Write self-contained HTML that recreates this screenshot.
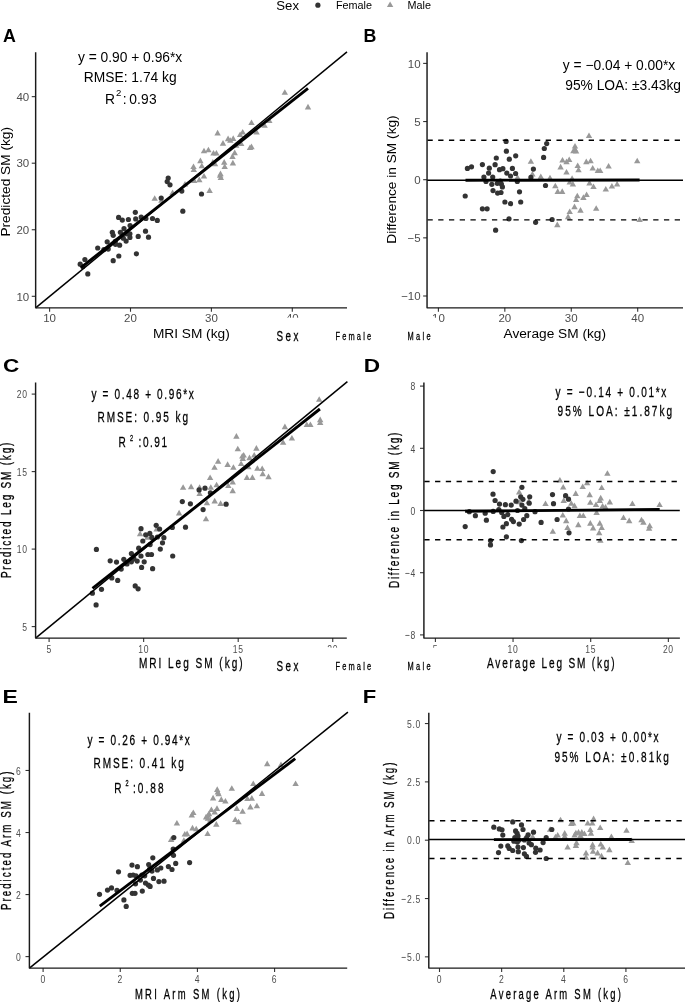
<!DOCTYPE html>
<html><head><meta charset="utf-8"><style>
html,body{margin:0;padding:0;background:#fff;width:685px;height:1002px;overflow:hidden}
svg{display:block;will-change:transform}
</style></head><body>
<svg width="685" height="1002" viewBox="0 0 685 1002">
<rect width="685" height="1002" fill="#fff"/>
<g font-family='"Liberation Sans", sans-serif'>
<line x1="31.75" y1="296.30" x2="35.65" y2="296.30" stroke="#333" stroke-width="1.1" stroke-linecap="butt"/>
<text x="29.25" y="300.5" font-size="11.5" text-anchor="end" fill="#4d4d4d" font-weight="normal">10</text>
<line x1="31.75" y1="229.75" x2="35.65" y2="229.75" stroke="#333" stroke-width="1.1" stroke-linecap="butt"/>
<text x="29.25" y="233.95" font-size="11.5" text-anchor="end" fill="#4d4d4d" font-weight="normal">20</text>
<line x1="31.75" y1="163.20" x2="35.65" y2="163.20" stroke="#333" stroke-width="1.1" stroke-linecap="butt"/>
<text x="29.25" y="167.4" font-size="11.5" text-anchor="end" fill="#4d4d4d" font-weight="normal">30</text>
<line x1="31.75" y1="96.65" x2="35.65" y2="96.65" stroke="#333" stroke-width="1.1" stroke-linecap="butt"/>
<text x="29.25" y="100.85000000000001" font-size="11.5" text-anchor="end" fill="#4d4d4d" font-weight="normal">40</text>
<line x1="49.60" y1="307.85" x2="49.60" y2="311.75" stroke="#333" stroke-width="1.1" stroke-linecap="butt"/>
<text x="49.6" y="322.35" font-size="11.5" text-anchor="middle" fill="#4d4d4d" font-weight="normal">10</text>
<line x1="130.50" y1="307.85" x2="130.50" y2="311.75" stroke="#333" stroke-width="1.1" stroke-linecap="butt"/>
<text x="130.5" y="322.35" font-size="11.5" text-anchor="middle" fill="#4d4d4d" font-weight="normal">20</text>
<line x1="211.40" y1="307.85" x2="211.40" y2="311.75" stroke="#333" stroke-width="1.1" stroke-linecap="butt"/>
<text x="211.4" y="322.35" font-size="11.5" text-anchor="middle" fill="#4d4d4d" font-weight="normal">30</text>
<line x1="292.30" y1="307.85" x2="292.30" y2="311.75" stroke="#333" stroke-width="1.1" stroke-linecap="butt"/>
<text x="292.3" y="322.35" font-size="11.5" text-anchor="middle" fill="#4d4d4d" font-weight="normal">40</text>
<line x1="423.15" y1="296.00" x2="427.05" y2="296.00" stroke="#333" stroke-width="1.1" stroke-linecap="butt"/>
<text x="420.65000000000003" y="300.2" font-size="11.5" text-anchor="end" fill="#4d4d4d" font-weight="normal">−10</text>
<line x1="423.15" y1="237.85" x2="427.05" y2="237.85" stroke="#333" stroke-width="1.1" stroke-linecap="butt"/>
<text x="420.65000000000003" y="242.04999999999998" font-size="11.5" text-anchor="end" fill="#4d4d4d" font-weight="normal">−5</text>
<line x1="423.15" y1="179.70" x2="427.05" y2="179.70" stroke="#333" stroke-width="1.1" stroke-linecap="butt"/>
<text x="420.65000000000003" y="183.89999999999998" font-size="11.5" text-anchor="end" fill="#4d4d4d" font-weight="normal">0</text>
<line x1="423.15" y1="121.55" x2="427.05" y2="121.55" stroke="#333" stroke-width="1.1" stroke-linecap="butt"/>
<text x="420.65000000000003" y="125.74999999999999" font-size="11.5" text-anchor="end" fill="#4d4d4d" font-weight="normal">5</text>
<line x1="423.15" y1="63.40" x2="427.05" y2="63.40" stroke="#333" stroke-width="1.1" stroke-linecap="butt"/>
<text x="420.65000000000003" y="67.59999999999998" font-size="11.5" text-anchor="end" fill="#4d4d4d" font-weight="normal">10</text>
<line x1="438.40" y1="307.85" x2="438.40" y2="311.75" stroke="#333" stroke-width="1.1" stroke-linecap="butt"/>
<text x="438.4" y="322.35" font-size="11.5" text-anchor="middle" fill="#4d4d4d" font-weight="normal">10</text>
<line x1="504.83" y1="307.85" x2="504.83" y2="311.75" stroke="#333" stroke-width="1.1" stroke-linecap="butt"/>
<text x="504.83" y="322.35" font-size="11.5" text-anchor="middle" fill="#4d4d4d" font-weight="normal">20</text>
<line x1="571.26" y1="307.85" x2="571.26" y2="311.75" stroke="#333" stroke-width="1.1" stroke-linecap="butt"/>
<text x="571.26" y="322.35" font-size="11.5" text-anchor="middle" fill="#4d4d4d" font-weight="normal">30</text>
<line x1="637.69" y1="307.85" x2="637.69" y2="311.75" stroke="#333" stroke-width="1.1" stroke-linecap="butt"/>
<text x="637.6899999999999" y="322.35" font-size="11.5" text-anchor="middle" fill="#4d4d4d" font-weight="normal">40</text>
<line x1="31.70" y1="626.60" x2="35.60" y2="626.60" stroke="#333" stroke-width="1.1" stroke-linecap="butt"/>
<text transform="translate(27.700000000000003,630.8000000000001) scale(0.74,1)" font-size="11.6" text-anchor="end" fill="#4d4d4d" font-weight="normal" letter-spacing="0.9">5</text>
<line x1="31.70" y1="549.10" x2="35.60" y2="549.10" stroke="#333" stroke-width="1.1" stroke-linecap="butt"/>
<text transform="translate(27.700000000000003,553.3000000000001) scale(0.74,1)" font-size="11.6" text-anchor="end" fill="#4d4d4d" font-weight="normal" letter-spacing="0.9">10</text>
<line x1="31.70" y1="471.60" x2="35.60" y2="471.60" stroke="#333" stroke-width="1.1" stroke-linecap="butt"/>
<text transform="translate(27.700000000000003,475.8) scale(0.74,1)" font-size="11.6" text-anchor="end" fill="#4d4d4d" font-weight="normal" letter-spacing="0.9">15</text>
<line x1="31.70" y1="394.10" x2="35.60" y2="394.10" stroke="#333" stroke-width="1.1" stroke-linecap="butt"/>
<text transform="translate(27.700000000000003,398.3) scale(0.74,1)" font-size="11.6" text-anchor="end" fill="#4d4d4d" font-weight="normal" letter-spacing="0.9">20</text>
<line x1="49.10" y1="638.10" x2="49.10" y2="642.00" stroke="#333" stroke-width="1.1" stroke-linecap="butt"/>
<text transform="translate(49.1,652.6) scale(0.74,1)" font-size="11.6" text-anchor="middle" fill="#4d4d4d" font-weight="normal" letter-spacing="0.9">5</text>
<line x1="143.65" y1="638.10" x2="143.65" y2="642.00" stroke="#333" stroke-width="1.1" stroke-linecap="butt"/>
<text transform="translate(143.65,652.6) scale(0.74,1)" font-size="11.6" text-anchor="middle" fill="#4d4d4d" font-weight="normal" letter-spacing="0.9">10</text>
<line x1="238.20" y1="638.10" x2="238.20" y2="642.00" stroke="#333" stroke-width="1.1" stroke-linecap="butt"/>
<text transform="translate(238.2,652.6) scale(0.74,1)" font-size="11.6" text-anchor="middle" fill="#4d4d4d" font-weight="normal" letter-spacing="0.9">15</text>
<line x1="332.75" y1="638.10" x2="332.75" y2="642.00" stroke="#333" stroke-width="1.1" stroke-linecap="butt"/>
<text transform="translate(332.75,652.6) scale(0.74,1)" font-size="11.6" text-anchor="middle" fill="#4d4d4d" font-weight="normal" letter-spacing="0.9">20</text>
<line x1="420.00" y1="634.90" x2="423.90" y2="634.90" stroke="#333" stroke-width="1.1" stroke-linecap="butt"/>
<text transform="translate(416.0,639.1) scale(0.74,1)" font-size="11.6" text-anchor="end" fill="#4d4d4d" font-weight="normal" letter-spacing="0.9">−8</text>
<line x1="420.00" y1="572.70" x2="423.90" y2="572.70" stroke="#333" stroke-width="1.1" stroke-linecap="butt"/>
<text transform="translate(416.0,576.9000000000001) scale(0.74,1)" font-size="11.6" text-anchor="end" fill="#4d4d4d" font-weight="normal" letter-spacing="0.9">−4</text>
<line x1="420.00" y1="510.50" x2="423.90" y2="510.50" stroke="#333" stroke-width="1.1" stroke-linecap="butt"/>
<text transform="translate(416.0,514.7) scale(0.74,1)" font-size="11.6" text-anchor="end" fill="#4d4d4d" font-weight="normal" letter-spacing="0.9">0</text>
<line x1="420.00" y1="448.30" x2="423.90" y2="448.30" stroke="#333" stroke-width="1.1" stroke-linecap="butt"/>
<text transform="translate(416.0,452.5) scale(0.74,1)" font-size="11.6" text-anchor="end" fill="#4d4d4d" font-weight="normal" letter-spacing="0.9">4</text>
<line x1="420.00" y1="386.10" x2="423.90" y2="386.10" stroke="#333" stroke-width="1.1" stroke-linecap="butt"/>
<text transform="translate(416.0,390.3) scale(0.74,1)" font-size="11.6" text-anchor="end" fill="#4d4d4d" font-weight="normal" letter-spacing="0.9">8</text>
<line x1="435.40" y1="638.10" x2="435.40" y2="642.00" stroke="#333" stroke-width="1.1" stroke-linecap="butt"/>
<text transform="translate(435.4,652.6) scale(0.74,1)" font-size="11.6" text-anchor="middle" fill="#4d4d4d" font-weight="normal" letter-spacing="0.9">5</text>
<line x1="513.05" y1="638.10" x2="513.05" y2="642.00" stroke="#333" stroke-width="1.1" stroke-linecap="butt"/>
<text transform="translate(513.05,652.6) scale(0.74,1)" font-size="11.6" text-anchor="middle" fill="#4d4d4d" font-weight="normal" letter-spacing="0.9">10</text>
<line x1="590.70" y1="638.10" x2="590.70" y2="642.00" stroke="#333" stroke-width="1.1" stroke-linecap="butt"/>
<text transform="translate(590.6999999999999,652.6) scale(0.74,1)" font-size="11.6" text-anchor="middle" fill="#4d4d4d" font-weight="normal" letter-spacing="0.9">15</text>
<line x1="668.35" y1="638.10" x2="668.35" y2="642.00" stroke="#333" stroke-width="1.1" stroke-linecap="butt"/>
<text transform="translate(668.3499999999999,652.6) scale(0.74,1)" font-size="11.6" text-anchor="middle" fill="#4d4d4d" font-weight="normal" letter-spacing="0.9">20</text>
<line x1="25.50" y1="956.60" x2="29.40" y2="956.60" stroke="#333" stroke-width="1.1" stroke-linecap="butt"/>
<text transform="translate(21.5,960.8000000000001) scale(0.74,1)" font-size="11.6" text-anchor="end" fill="#4d4d4d" font-weight="normal" letter-spacing="0.9">0</text>
<line x1="25.50" y1="894.56" x2="29.40" y2="894.56" stroke="#333" stroke-width="1.1" stroke-linecap="butt"/>
<text transform="translate(21.5,898.7600000000001) scale(0.74,1)" font-size="11.6" text-anchor="end" fill="#4d4d4d" font-weight="normal" letter-spacing="0.9">2</text>
<line x1="25.50" y1="832.52" x2="29.40" y2="832.52" stroke="#333" stroke-width="1.1" stroke-linecap="butt"/>
<text transform="translate(21.5,836.72) scale(0.74,1)" font-size="11.6" text-anchor="end" fill="#4d4d4d" font-weight="normal" letter-spacing="0.9">4</text>
<line x1="25.50" y1="770.48" x2="29.40" y2="770.48" stroke="#333" stroke-width="1.1" stroke-linecap="butt"/>
<text transform="translate(21.5,774.6800000000001) scale(0.74,1)" font-size="11.6" text-anchor="end" fill="#4d4d4d" font-weight="normal" letter-spacing="0.9">6</text>
<line x1="43.10" y1="968.10" x2="43.10" y2="972.00" stroke="#333" stroke-width="1.1" stroke-linecap="butt"/>
<text transform="translate(43.1,982.6) scale(0.74,1)" font-size="11.6" text-anchor="middle" fill="#4d4d4d" font-weight="normal" letter-spacing="0.9">0</text>
<line x1="120.26" y1="968.10" x2="120.26" y2="972.00" stroke="#333" stroke-width="1.1" stroke-linecap="butt"/>
<text transform="translate(120.25999999999999,982.6) scale(0.74,1)" font-size="11.6" text-anchor="middle" fill="#4d4d4d" font-weight="normal" letter-spacing="0.9">2</text>
<line x1="197.42" y1="968.10" x2="197.42" y2="972.00" stroke="#333" stroke-width="1.1" stroke-linecap="butt"/>
<text transform="translate(197.42,982.6) scale(0.74,1)" font-size="11.6" text-anchor="middle" fill="#4d4d4d" font-weight="normal" letter-spacing="0.9">4</text>
<line x1="274.58" y1="968.10" x2="274.58" y2="972.00" stroke="#333" stroke-width="1.1" stroke-linecap="butt"/>
<text transform="translate(274.58,982.6) scale(0.74,1)" font-size="11.6" text-anchor="middle" fill="#4d4d4d" font-weight="normal" letter-spacing="0.9">6</text>
<line x1="424.90" y1="956.85" x2="428.80" y2="956.85" stroke="#333" stroke-width="1.1" stroke-linecap="butt"/>
<text transform="translate(420.90000000000003,961.0500000000001) scale(0.74,1)" font-size="11.6" text-anchor="end" fill="#4d4d4d" font-weight="normal" letter-spacing="0.9">−5.0</text>
<line x1="424.90" y1="898.53" x2="428.80" y2="898.53" stroke="#333" stroke-width="1.1" stroke-linecap="butt"/>
<text transform="translate(420.90000000000003,902.7250000000001) scale(0.74,1)" font-size="11.6" text-anchor="end" fill="#4d4d4d" font-weight="normal" letter-spacing="0.9">−2.5</text>
<line x1="424.90" y1="840.20" x2="428.80" y2="840.20" stroke="#333" stroke-width="1.1" stroke-linecap="butt"/>
<text transform="translate(420.90000000000003,844.4000000000001) scale(0.74,1)" font-size="11.6" text-anchor="end" fill="#4d4d4d" font-weight="normal" letter-spacing="0.9">0.0</text>
<line x1="424.90" y1="781.88" x2="428.80" y2="781.88" stroke="#333" stroke-width="1.1" stroke-linecap="butt"/>
<text transform="translate(420.90000000000003,786.075) scale(0.74,1)" font-size="11.6" text-anchor="end" fill="#4d4d4d" font-weight="normal" letter-spacing="0.9">2.5</text>
<line x1="424.90" y1="723.55" x2="428.80" y2="723.55" stroke="#333" stroke-width="1.1" stroke-linecap="butt"/>
<text transform="translate(420.90000000000003,727.7500000000001) scale(0.74,1)" font-size="11.6" text-anchor="end" fill="#4d4d4d" font-weight="normal" letter-spacing="0.9">5.0</text>
<line x1="439.50" y1="968.10" x2="439.50" y2="972.00" stroke="#333" stroke-width="1.1" stroke-linecap="butt"/>
<text transform="translate(439.5,982.6) scale(0.74,1)" font-size="11.6" text-anchor="middle" fill="#4d4d4d" font-weight="normal" letter-spacing="0.9">0</text>
<line x1="501.64" y1="968.10" x2="501.64" y2="972.00" stroke="#333" stroke-width="1.1" stroke-linecap="butt"/>
<text transform="translate(501.64,982.6) scale(0.74,1)" font-size="11.6" text-anchor="middle" fill="#4d4d4d" font-weight="normal" letter-spacing="0.9">2</text>
<line x1="563.78" y1="968.10" x2="563.78" y2="972.00" stroke="#333" stroke-width="1.1" stroke-linecap="butt"/>
<text transform="translate(563.78,982.6) scale(0.74,1)" font-size="11.6" text-anchor="middle" fill="#4d4d4d" font-weight="normal" letter-spacing="0.9">4</text>
<line x1="625.92" y1="968.10" x2="625.92" y2="972.00" stroke="#333" stroke-width="1.1" stroke-linecap="butt"/>
<text transform="translate(625.9200000000001,982.6) scale(0.74,1)" font-size="11.6" text-anchor="middle" fill="#4d4d4d" font-weight="normal" letter-spacing="0.9">6</text>
<path d="M154.7 195.2L157.9 200.8L151.5 200.8Z" fill="#999999"/>
<path d="M161.4 197.1L164.6 202.7L158.2 202.7Z" fill="#999999"/>
<path d="M172.6 189.5L175.8 195.1L169.4 195.1Z" fill="#999999"/>
<path d="M185.0 181.0L188.2 186.6L181.8 186.6Z" fill="#999999"/>
<path d="M194.2 177.3L197.4 182.9L191.0 182.9Z" fill="#999999"/>
<path d="M199.3 176.6L202.5 182.2L196.1 182.2Z" fill="#999999"/>
<path d="M204.0 173.0L207.2 178.6L200.8 178.6Z" fill="#999999"/>
<path d="M209.6 187.3L212.8 192.9L206.4 192.9Z" fill="#999999"/>
<path d="M193.5 163.5L196.7 169.1L190.3 169.1Z" fill="#999999"/>
<path d="M193.8 166.4L197.0 172.0L190.6 172.0Z" fill="#999999"/>
<path d="M200.4 157.6L203.6 163.2L197.2 163.2Z" fill="#999999"/>
<path d="M201.8 162.7L205.0 168.3L198.6 168.3Z" fill="#999999"/>
<path d="M204.0 147.7L207.2 153.3L200.8 153.3Z" fill="#999999"/>
<path d="M208.4 146.7L211.6 152.3L205.2 152.3Z" fill="#999999"/>
<path d="M213.5 150.0L216.7 155.6L210.3 155.6Z" fill="#999999"/>
<path d="M216.4 150.0L219.6 155.6L213.2 155.6Z" fill="#999999"/>
<path d="M212.8 159.1L216.0 164.7L209.6 164.7Z" fill="#999999"/>
<path d="M215.0 160.6L218.2 166.2L211.8 166.2Z" fill="#999999"/>
<path d="M220.1 172.2L223.3 177.8L216.9 177.8Z" fill="#999999"/>
<path d="M220.8 174.4L224.0 180.0L217.6 180.0Z" fill="#999999"/>
<path d="M224.2 159.1L227.4 164.7L221.0 164.7Z" fill="#999999"/>
<path d="M224.7 163.5L227.9 169.1L221.5 169.1Z" fill="#999999"/>
<path d="M232.9 159.8L236.1 165.4L229.7 165.4Z" fill="#999999"/>
<path d="M232.5 153.3L235.7 158.9L229.3 158.9Z" fill="#999999"/>
<path d="M234.7 149.6L237.9 155.2L231.5 155.2Z" fill="#999999"/>
<path d="M223.0 140.1L226.2 145.7L219.8 145.7Z" fill="#999999"/>
<path d="M241.2 140.4L244.4 146.0L238.0 146.0Z" fill="#999999"/>
<path d="M250.0 144.5L253.2 150.1L246.8 150.1Z" fill="#999999"/>
<path d="M230.3 137.2L233.5 142.8L227.1 142.8Z" fill="#999999"/>
<path d="M284.8 89.2L288.0 94.8L281.6 94.8Z" fill="#999999"/>
<path d="M308.0 103.8L311.2 109.4L304.8 109.4Z" fill="#999999"/>
<path d="M251.5 119.5L254.7 125.1L248.3 125.1Z" fill="#999999"/>
<path d="M264.6 122.2L267.8 127.8L261.4 127.8Z" fill="#999999"/>
<path d="M269.3 117.3L272.5 122.9L266.1 122.9Z" fill="#999999"/>
<path d="M256.6 129.0L259.8 134.6L253.4 134.6Z" fill="#999999"/>
<path d="M242.7 129.0L245.9 134.6L239.5 134.6Z" fill="#999999"/>
<path d="M240.1 131.5L243.3 137.1L236.9 137.1Z" fill="#999999"/>
<path d="M217.6 129.8L220.8 135.4L214.4 135.4Z" fill="#999999"/>
<path d="M228.1 135.6L231.3 141.2L224.9 141.2Z" fill="#999999"/>
<path d="M233.2 135.3L236.4 140.9L230.0 140.9Z" fill="#999999"/>
<path d="M251.5 143.6L254.7 149.2L248.3 149.2Z" fill="#999999"/>
<path d="M220.5 170.6L223.7 176.2L217.3 176.2Z" fill="#999999"/>
<path d="M236.2 142.2L239.4 147.8L233.0 147.8Z" fill="#999999"/>
<circle cx="87.8" cy="273.9" r="2.6" fill="#333333"/>
<circle cx="80.2" cy="264.2" r="2.6" fill="#333333"/>
<circle cx="84.9" cy="259.5" r="2.6" fill="#333333"/>
<circle cx="82.8" cy="266.6" r="2.6" fill="#333333"/>
<circle cx="97.7" cy="248.0" r="2.6" fill="#333333"/>
<circle cx="103.9" cy="249.6" r="2.6" fill="#333333"/>
<circle cx="107.2" cy="241.8" r="2.6" fill="#333333"/>
<circle cx="108.2" cy="249.1" r="2.6" fill="#333333"/>
<circle cx="113.2" cy="260.7" r="2.6" fill="#333333"/>
<circle cx="118.8" cy="256.0" r="2.6" fill="#333333"/>
<circle cx="112.3" cy="232.3" r="2.6" fill="#333333"/>
<circle cx="113.2" cy="235.3" r="2.6" fill="#333333"/>
<circle cx="115.5" cy="244.3" r="2.6" fill="#333333"/>
<circle cx="119.6" cy="245.2" r="2.6" fill="#333333"/>
<circle cx="120.4" cy="232.3" r="2.6" fill="#333333"/>
<circle cx="124.0" cy="228.7" r="2.6" fill="#333333"/>
<circle cx="118.6" cy="217.4" r="2.6" fill="#333333"/>
<circle cx="122.3" cy="220.1" r="2.6" fill="#333333"/>
<circle cx="128.4" cy="219.5" r="2.6" fill="#333333"/>
<circle cx="135.3" cy="212.3" r="2.6" fill="#333333"/>
<circle cx="135.7" cy="218.9" r="2.6" fill="#333333"/>
<circle cx="141.2" cy="217.0" r="2.6" fill="#333333"/>
<circle cx="145.9" cy="218.5" r="2.6" fill="#333333"/>
<circle cx="152.5" cy="218.5" r="2.6" fill="#333333"/>
<circle cx="157.3" cy="220.4" r="2.6" fill="#333333"/>
<circle cx="130.1" cy="225.6" r="2.6" fill="#333333"/>
<circle cx="126.1" cy="241.1" r="2.6" fill="#333333"/>
<circle cx="129.9" cy="233.8" r="2.6" fill="#333333"/>
<circle cx="129.9" cy="237.4" r="2.6" fill="#333333"/>
<circle cx="123.3" cy="238.2" r="2.6" fill="#333333"/>
<circle cx="138.2" cy="236.4" r="2.6" fill="#333333"/>
<circle cx="145.5" cy="231.2" r="2.6" fill="#333333"/>
<circle cx="148.5" cy="237.2" r="2.6" fill="#333333"/>
<circle cx="136.4" cy="253.8" r="2.6" fill="#333333"/>
<circle cx="161.2" cy="198.0" r="2.6" fill="#333333"/>
<circle cx="115.3" cy="241.4" r="2.6" fill="#333333"/>
<circle cx="126.9" cy="233.8" r="2.6" fill="#333333"/>
<circle cx="168.2" cy="178.0" r="2.6" fill="#333333"/>
<circle cx="167.2" cy="181.6" r="2.6" fill="#333333"/>
<circle cx="170.0" cy="184.8" r="2.6" fill="#333333"/>
<circle cx="181.8" cy="191.1" r="2.6" fill="#333333"/>
<circle cx="201.5" cy="194.0" r="2.6" fill="#333333"/>
<circle cx="182.8" cy="211.2" r="2.6" fill="#333333"/>
<path d="M530.9 158.2L534.1 163.8L527.7 163.8Z" fill="#999999"/>
<path d="M532.4 171.0L535.6 176.6L529.2 176.6Z" fill="#999999"/>
<path d="M517.5 174.2L520.7 179.8L514.3 179.8Z" fill="#999999"/>
<path d="M589.0 132.5L592.2 138.1L585.8 138.1Z" fill="#999999"/>
<path d="M575.0 142.9L578.2 148.5L571.8 148.5Z" fill="#999999"/>
<path d="M575.0 146.1L578.2 151.7L571.8 151.7Z" fill="#999999"/>
<path d="M576.1 148.0L579.3 153.6L572.9 153.6Z" fill="#999999"/>
<path d="M573.4 147.7L576.6 153.3L570.2 153.3Z" fill="#999999"/>
<path d="M562.5 157.0L565.7 162.6L559.3 162.6Z" fill="#999999"/>
<path d="M566.5 158.6L569.7 164.2L563.3 164.2Z" fill="#999999"/>
<path d="M569.2 156.5L572.4 162.1L566.0 162.1Z" fill="#999999"/>
<path d="M560.6 163.8L563.8 169.4L557.4 169.4Z" fill="#999999"/>
<path d="M577.7 162.5L580.9 168.1L574.5 168.1Z" fill="#999999"/>
<path d="M578.5 166.7L581.7 172.3L575.3 172.3Z" fill="#999999"/>
<path d="M566.5 168.9L569.7 174.5L563.3 174.5Z" fill="#999999"/>
<path d="M586.3 158.6L589.5 164.2L583.1 164.2Z" fill="#999999"/>
<path d="M590.6 157.7L593.8 163.3L587.4 163.3Z" fill="#999999"/>
<path d="M592.7 164.9L595.9 170.5L589.5 170.5Z" fill="#999999"/>
<path d="M597.8 167.5L601.0 173.1L594.6 173.1Z" fill="#999999"/>
<path d="M600.2 167.5L603.4 173.1L597.0 173.1Z" fill="#999999"/>
<path d="M608.6 163.0L611.8 168.6L605.4 168.6Z" fill="#999999"/>
<path d="M637.2 157.7L640.4 163.3L634.0 163.3Z" fill="#999999"/>
<path d="M540.8 173.4L544.0 179.0L537.6 179.0Z" fill="#999999"/>
<path d="M550.0 174.7L553.2 180.3L546.8 180.3Z" fill="#999999"/>
<path d="M572.1 175.3L575.3 180.9L568.9 180.9Z" fill="#999999"/>
<path d="M569.7 179.0L572.9 184.6L566.5 184.6Z" fill="#999999"/>
<path d="M572.9 181.0L576.1 186.6L569.7 186.6Z" fill="#999999"/>
<path d="M555.3 182.7L558.5 188.3L552.1 188.3Z" fill="#999999"/>
<path d="M557.7 188.3L560.9 193.9L554.5 193.9Z" fill="#999999"/>
<path d="M562.2 188.3L565.4 193.9L559.0 193.9Z" fill="#999999"/>
<path d="M589.5 179.8L592.7 185.4L586.3 185.4Z" fill="#999999"/>
<path d="M593.5 183.5L596.7 189.1L590.3 189.1Z" fill="#999999"/>
<path d="M605.8 185.9L609.0 191.5L602.6 191.5Z" fill="#999999"/>
<path d="M611.9 183.0L615.1 188.6L608.7 188.6Z" fill="#999999"/>
<path d="M617.1 181.0L620.3 186.6L613.9 186.6Z" fill="#999999"/>
<path d="M577.3 192.7L580.5 198.3L574.1 198.3Z" fill="#999999"/>
<path d="M576.1 196.4L579.3 202.0L572.9 202.0Z" fill="#999999"/>
<path d="M583.4 194.3L586.6 199.9L580.2 199.9Z" fill="#999999"/>
<path d="M586.6 191.4L589.8 197.0L583.4 197.0Z" fill="#999999"/>
<path d="M574.5 203.6L577.7 209.2L571.3 209.2Z" fill="#999999"/>
<path d="M580.5 207.1L583.7 212.7L577.3 212.7Z" fill="#999999"/>
<path d="M569.7 208.4L572.9 214.0L566.5 214.0Z" fill="#999999"/>
<path d="M596.2 205.2L599.4 210.8L593.0 210.8Z" fill="#999999"/>
<path d="M568.1 213.6L571.3 219.2L564.9 219.2Z" fill="#999999"/>
<path d="M557.3 221.6L560.5 227.2L554.1 227.2Z" fill="#999999"/>
<path d="M639.6 216.4L642.8 222.0L636.4 222.0Z" fill="#999999"/>
<circle cx="506.1" cy="141.4" r="2.6" fill="#333333"/>
<circle cx="506.4" cy="151.2" r="2.6" fill="#333333"/>
<circle cx="496.3" cy="158.0" r="2.6" fill="#333333"/>
<circle cx="509.3" cy="159.2" r="2.6" fill="#333333"/>
<circle cx="515.7" cy="155.8" r="2.6" fill="#333333"/>
<circle cx="546.7" cy="143.6" r="2.6" fill="#333333"/>
<circle cx="544.3" cy="148.5" r="2.6" fill="#333333"/>
<circle cx="543.6" cy="157.4" r="2.6" fill="#333333"/>
<circle cx="467.4" cy="168.4" r="2.6" fill="#333333"/>
<circle cx="471.5" cy="166.8" r="2.6" fill="#333333"/>
<circle cx="482.4" cy="164.6" r="2.6" fill="#333333"/>
<circle cx="489.3" cy="168.2" r="2.6" fill="#333333"/>
<circle cx="495.1" cy="164.7" r="2.6" fill="#333333"/>
<circle cx="488.6" cy="173.1" r="2.6" fill="#333333"/>
<circle cx="499.5" cy="169.7" r="2.6" fill="#333333"/>
<circle cx="502.9" cy="168.7" r="2.6" fill="#333333"/>
<circle cx="512.4" cy="168.4" r="2.6" fill="#333333"/>
<circle cx="506.8" cy="173.1" r="2.6" fill="#333333"/>
<circle cx="510.5" cy="176.0" r="2.6" fill="#333333"/>
<circle cx="515.6" cy="173.5" r="2.6" fill="#333333"/>
<circle cx="533.4" cy="169.1" r="2.6" fill="#333333"/>
<circle cx="483.9" cy="177.0" r="2.6" fill="#333333"/>
<circle cx="492.7" cy="177.0" r="2.6" fill="#333333"/>
<circle cx="486.0" cy="181.4" r="2.6" fill="#333333"/>
<circle cx="491.8" cy="184.3" r="2.6" fill="#333333"/>
<circle cx="497.3" cy="183.3" r="2.6" fill="#333333"/>
<circle cx="500.3" cy="181.1" r="2.6" fill="#333333"/>
<circle cx="501.4" cy="184.0" r="2.6" fill="#333333"/>
<circle cx="502.4" cy="186.9" r="2.6" fill="#333333"/>
<circle cx="517.3" cy="181.5" r="2.6" fill="#333333"/>
<circle cx="530.9" cy="177.4" r="2.6" fill="#333333"/>
<circle cx="545.5" cy="185.5" r="2.6" fill="#333333"/>
<circle cx="465.2" cy="196.0" r="2.6" fill="#333333"/>
<circle cx="493.0" cy="190.6" r="2.6" fill="#333333"/>
<circle cx="497.6" cy="193.1" r="2.6" fill="#333333"/>
<circle cx="501.0" cy="192.5" r="2.6" fill="#333333"/>
<circle cx="519.5" cy="191.8" r="2.6" fill="#333333"/>
<circle cx="504.9" cy="202.0" r="2.6" fill="#333333"/>
<circle cx="510.5" cy="203.7" r="2.6" fill="#333333"/>
<circle cx="520.7" cy="202.0" r="2.6" fill="#333333"/>
<circle cx="482.4" cy="208.8" r="2.6" fill="#333333"/>
<circle cx="487.1" cy="208.8" r="2.6" fill="#333333"/>
<circle cx="509.0" cy="218.8" r="2.6" fill="#333333"/>
<circle cx="535.6" cy="222.3" r="2.6" fill="#333333"/>
<circle cx="552.1" cy="219.5" r="2.6" fill="#333333"/>
<circle cx="495.6" cy="230.2" r="2.6" fill="#333333"/>
<path d="M140.1 530.6L143.3 536.2L136.9 536.2Z" fill="#999999"/>
<path d="M147.4 534.2L150.6 539.8L144.2 539.8Z" fill="#999999"/>
<path d="M156.6 525.9L159.8 531.5L153.4 531.5Z" fill="#999999"/>
<path d="M183.1 484.2L186.3 489.8L179.9 489.8Z" fill="#999999"/>
<path d="M191.1 483.6L194.3 489.2L187.9 489.2Z" fill="#999999"/>
<path d="M199.6 484.2L202.8 489.8L196.4 489.8Z" fill="#999999"/>
<path d="M199.6 490.5L202.8 496.1L196.4 496.1Z" fill="#999999"/>
<path d="M210.8 484.2L214.0 489.8L207.6 489.8Z" fill="#999999"/>
<path d="M216.6 481.7L219.8 487.3L213.4 487.3Z" fill="#999999"/>
<path d="M210.1 474.4L213.3 480.0L206.9 480.0Z" fill="#999999"/>
<path d="M214.5 464.2L217.7 469.8L211.3 469.8Z" fill="#999999"/>
<path d="M218.1 458.1L221.3 463.7L214.9 463.7Z" fill="#999999"/>
<path d="M227.6 461.3L230.8 466.9L224.4 466.9Z" fill="#999999"/>
<path d="M233.4 464.2L236.6 469.8L230.2 469.8Z" fill="#999999"/>
<path d="M237.8 445.7L241.0 451.3L234.6 451.3Z" fill="#999999"/>
<path d="M228.3 482.5L231.5 488.1L225.1 488.1Z" fill="#999999"/>
<path d="M232.7 478.8L235.9 484.4L229.5 484.4Z" fill="#999999"/>
<path d="M232.7 487.6L235.9 493.2L229.5 493.2Z" fill="#999999"/>
<path d="M206.9 499.7L210.1 505.3L203.7 505.3Z" fill="#999999"/>
<path d="M214.7 497.8L217.9 503.4L211.5 503.4Z" fill="#999999"/>
<path d="M220.6 500.3L223.8 505.9L217.4 505.9Z" fill="#999999"/>
<path d="M179.1 509.8L182.3 515.4L175.9 515.4Z" fill="#999999"/>
<path d="M206.0 515.7L209.2 521.3L202.8 521.3Z" fill="#999999"/>
<path d="M319.2 396.2L322.4 401.8L316.0 401.8Z" fill="#999999"/>
<path d="M320.2 416.6L323.4 422.2L317.0 422.2Z" fill="#999999"/>
<path d="M320.2 419.5L323.4 425.1L317.0 425.1Z" fill="#999999"/>
<path d="M306.8 421.4L310.0 427.0L303.6 427.0Z" fill="#999999"/>
<path d="M310.4 421.4L313.6 427.0L307.2 427.0Z" fill="#999999"/>
<path d="M284.9 423.6L288.1 429.2L281.7 429.2Z" fill="#999999"/>
<path d="M291.9 434.9L295.1 440.5L288.7 440.5Z" fill="#999999"/>
<path d="M283.1 439.2L286.3 444.8L279.9 444.8Z" fill="#999999"/>
<path d="M236.4 433.1L239.6 438.7L233.2 438.7Z" fill="#999999"/>
<path d="M256.4 445.1L259.6 450.7L253.2 450.7Z" fill="#999999"/>
<path d="M243.7 451.9L246.9 457.5L240.5 457.5Z" fill="#999999"/>
<path d="M242.8 455.3L246.0 460.9L239.6 460.9Z" fill="#999999"/>
<path d="M249.5 454.6L252.7 460.2L246.3 460.2Z" fill="#999999"/>
<path d="M254.2 451.9L257.4 457.5L251.0 457.5Z" fill="#999999"/>
<path d="M241.1 460.4L244.3 466.0L237.9 466.0Z" fill="#999999"/>
<path d="M248.4 463.6L251.6 469.2L245.2 469.2Z" fill="#999999"/>
<path d="M257.4 465.2L260.6 470.8L254.2 470.8Z" fill="#999999"/>
<path d="M262.2 465.5L265.4 471.1L259.0 471.1Z" fill="#999999"/>
<path d="M262.7 470.6L265.9 476.2L259.5 476.2Z" fill="#999999"/>
<path d="M268.5 473.6L271.7 479.2L265.3 479.2Z" fill="#999999"/>
<path d="M246.9 474.3L250.1 479.9L243.7 479.9Z" fill="#999999"/>
<path d="M252.4 474.3L255.6 479.9L249.2 479.9Z" fill="#999999"/>
<path d="M242.3 453.0L245.5 458.6L239.1 458.6Z" fill="#999999"/>
<circle cx="96.4" cy="549.4" r="2.6" fill="#333333"/>
<circle cx="96.1" cy="604.9" r="2.6" fill="#333333"/>
<circle cx="92.4" cy="593.2" r="2.6" fill="#333333"/>
<circle cx="101.5" cy="589.3" r="2.6" fill="#333333"/>
<circle cx="110.2" cy="560.8" r="2.6" fill="#333333"/>
<circle cx="116.5" cy="562.1" r="2.6" fill="#333333"/>
<circle cx="111.8" cy="577.9" r="2.6" fill="#333333"/>
<circle cx="117.7" cy="580.4" r="2.6" fill="#333333"/>
<circle cx="121.2" cy="569.1" r="2.6" fill="#333333"/>
<circle cx="123.8" cy="559.3" r="2.6" fill="#333333"/>
<circle cx="127.0" cy="564.0" r="2.6" fill="#333333"/>
<circle cx="131.4" cy="553.5" r="2.6" fill="#333333"/>
<circle cx="131.4" cy="561.8" r="2.6" fill="#333333"/>
<circle cx="134.0" cy="558.9" r="2.6" fill="#333333"/>
<circle cx="137.2" cy="561.1" r="2.6" fill="#333333"/>
<circle cx="138.7" cy="548.2" r="2.6" fill="#333333"/>
<circle cx="141.0" cy="556.0" r="2.6" fill="#333333"/>
<circle cx="144.2" cy="561.8" r="2.6" fill="#333333"/>
<circle cx="141.6" cy="567.4" r="2.6" fill="#333333"/>
<circle cx="135.2" cy="585.9" r="2.6" fill="#333333"/>
<circle cx="138.1" cy="588.8" r="2.6" fill="#333333"/>
<circle cx="142.8" cy="541.0" r="2.6" fill="#333333"/>
<circle cx="141.0" cy="528.7" r="2.6" fill="#333333"/>
<circle cx="145.7" cy="534.8" r="2.6" fill="#333333"/>
<circle cx="149.8" cy="533.4" r="2.6" fill="#333333"/>
<circle cx="151.8" cy="537.4" r="2.6" fill="#333333"/>
<circle cx="150.1" cy="544.6" r="2.6" fill="#333333"/>
<circle cx="147.9" cy="554.5" r="2.6" fill="#333333"/>
<circle cx="151.5" cy="554.5" r="2.6" fill="#333333"/>
<circle cx="152.6" cy="568.7" r="2.6" fill="#333333"/>
<circle cx="156.2" cy="525.3" r="2.6" fill="#333333"/>
<circle cx="159.6" cy="529.0" r="2.6" fill="#333333"/>
<circle cx="157.4" cy="537.0" r="2.6" fill="#333333"/>
<circle cx="163.9" cy="537.7" r="2.6" fill="#333333"/>
<circle cx="162.5" cy="542.8" r="2.6" fill="#333333"/>
<circle cx="160.3" cy="549.1" r="2.6" fill="#333333"/>
<circle cx="172.3" cy="527.5" r="2.6" fill="#333333"/>
<circle cx="172.7" cy="556.0" r="2.6" fill="#333333"/>
<circle cx="182.3" cy="501.6" r="2.6" fill="#333333"/>
<circle cx="190.4" cy="503.8" r="2.6" fill="#333333"/>
<circle cx="199.1" cy="489.9" r="2.6" fill="#333333"/>
<circle cx="205.0" cy="488.2" r="2.6" fill="#333333"/>
<circle cx="210.4" cy="492.8" r="2.6" fill="#333333"/>
<circle cx="203.1" cy="509.6" r="2.6" fill="#333333"/>
<circle cx="226.1" cy="504.2" r="2.6" fill="#333333"/>
<circle cx="185.5" cy="527.2" r="2.6" fill="#333333"/>
<path d="M519.2 488.8L522.4 494.4L516.0 494.4Z" fill="#999999"/>
<path d="M519.2 498.7L522.4 504.3L516.0 504.3Z" fill="#999999"/>
<path d="M528.7 498.0L531.9 503.6L525.5 503.6Z" fill="#999999"/>
<path d="M545.5 500.4L548.7 506.0L542.3 506.0Z" fill="#999999"/>
<path d="M552.8 528.2L556.0 533.8L549.6 533.8Z" fill="#999999"/>
<path d="M607.4 470.2L610.6 475.8L604.2 475.8Z" fill="#999999"/>
<path d="M559.9 477.0L563.1 482.6L556.7 482.6Z" fill="#999999"/>
<path d="M587.1 479.7L590.3 485.3L583.9 485.3Z" fill="#999999"/>
<path d="M582.7 483.5L585.9 489.1L579.5 489.1Z" fill="#999999"/>
<path d="M563.2 484.0L566.4 489.6L560.0 489.6Z" fill="#999999"/>
<path d="M601.7 484.4L604.9 490.0L598.5 490.0Z" fill="#999999"/>
<path d="M575.7 490.3L578.9 495.9L572.5 495.9Z" fill="#999999"/>
<path d="M589.7 491.6L592.9 497.2L586.5 497.2Z" fill="#999999"/>
<path d="M563.7 497.3L566.9 502.9L560.5 502.9Z" fill="#999999"/>
<path d="M571.3 500.2L574.5 505.8L568.1 505.8Z" fill="#999999"/>
<path d="M574.5 502.6L577.7 508.2L571.3 508.2Z" fill="#999999"/>
<path d="M590.3 499.2L593.5 504.8L587.1 504.8Z" fill="#999999"/>
<path d="M596.0 501.5L599.2 507.1L592.8 507.1Z" fill="#999999"/>
<path d="M599.8 497.3L603.0 502.9L596.6 502.9Z" fill="#999999"/>
<path d="M600.7 494.8L603.9 500.4L597.5 500.4Z" fill="#999999"/>
<path d="M609.8 498.8L613.0 504.4L606.6 504.4Z" fill="#999999"/>
<path d="M602.6 503.0L605.8 508.6L599.4 508.6Z" fill="#999999"/>
<path d="M605.5 504.0L608.7 509.6L602.3 509.6Z" fill="#999999"/>
<path d="M632.4 500.5L635.6 506.1L629.2 506.1Z" fill="#999999"/>
<path d="M659.6 501.5L662.8 507.1L656.4 507.1Z" fill="#999999"/>
<path d="M596.6 509.3L599.8 514.9L593.4 514.9Z" fill="#999999"/>
<path d="M562.8 511.9L566.0 517.5L559.6 517.5Z" fill="#999999"/>
<path d="M579.9 512.5L583.1 518.1L576.7 518.1Z" fill="#999999"/>
<path d="M583.3 512.5L586.5 518.1L580.1 518.1Z" fill="#999999"/>
<path d="M566.2 517.6L569.4 523.2L563.0 523.2Z" fill="#999999"/>
<path d="M623.5 514.4L626.7 520.0L620.3 520.0Z" fill="#999999"/>
<path d="M629.2 517.6L632.4 523.2L626.0 523.2Z" fill="#999999"/>
<path d="M641.5 516.7L644.7 522.3L638.3 522.3Z" fill="#999999"/>
<path d="M643.4 519.1L646.6 524.7L640.2 524.7Z" fill="#999999"/>
<path d="M649.7 522.6L652.9 528.2L646.5 528.2Z" fill="#999999"/>
<path d="M649.1 525.2L652.3 530.8L645.9 530.8Z" fill="#999999"/>
<path d="M578.3 521.6L581.5 527.2L575.1 527.2Z" fill="#999999"/>
<path d="M590.3 520.1L593.5 525.7L587.1 525.7Z" fill="#999999"/>
<path d="M593.1 524.8L596.3 530.4L589.9 530.4Z" fill="#999999"/>
<path d="M599.8 520.1L603.0 525.7L596.6 525.7Z" fill="#999999"/>
<path d="M601.7 524.5L604.9 530.1L598.5 530.1Z" fill="#999999"/>
<path d="M599.2 529.6L602.4 535.2L596.0 535.2Z" fill="#999999"/>
<path d="M567.5 524.5L570.7 530.1L564.3 530.1Z" fill="#999999"/>
<path d="M600.4 537.2L603.6 542.8L597.2 542.8Z" fill="#999999"/>
<circle cx="493.2" cy="471.6" r="2.6" fill="#333333"/>
<circle cx="521.9" cy="487.3" r="2.6" fill="#333333"/>
<circle cx="493.0" cy="494.2" r="2.6" fill="#333333"/>
<circle cx="495.1" cy="500.5" r="2.6" fill="#333333"/>
<circle cx="499.5" cy="504.1" r="2.6" fill="#333333"/>
<circle cx="505.4" cy="504.7" r="2.6" fill="#333333"/>
<circle cx="511.2" cy="505.1" r="2.6" fill="#333333"/>
<circle cx="516.0" cy="501.2" r="2.6" fill="#333333"/>
<circle cx="520.7" cy="496.8" r="2.6" fill="#333333"/>
<circle cx="522.9" cy="499.3" r="2.6" fill="#333333"/>
<circle cx="521.9" cy="505.1" r="2.6" fill="#333333"/>
<circle cx="529.7" cy="496.8" r="2.6" fill="#333333"/>
<circle cx="529.2" cy="503.2" r="2.6" fill="#333333"/>
<circle cx="524.8" cy="508.5" r="2.6" fill="#333333"/>
<circle cx="552.5" cy="494.6" r="2.6" fill="#333333"/>
<circle cx="553.5" cy="503.7" r="2.6" fill="#333333"/>
<circle cx="469.3" cy="511.7" r="2.6" fill="#333333"/>
<circle cx="475.4" cy="515.7" r="2.6" fill="#333333"/>
<circle cx="485.2" cy="513.2" r="2.6" fill="#333333"/>
<circle cx="493.2" cy="511.4" r="2.6" fill="#333333"/>
<circle cx="498.8" cy="509.5" r="2.6" fill="#333333"/>
<circle cx="501.7" cy="512.4" r="2.6" fill="#333333"/>
<circle cx="503.9" cy="516.4" r="2.6" fill="#333333"/>
<circle cx="507.8" cy="514.6" r="2.6" fill="#333333"/>
<circle cx="517.5" cy="510.5" r="2.6" fill="#333333"/>
<circle cx="526.8" cy="515.7" r="2.6" fill="#333333"/>
<circle cx="535.0" cy="511.7" r="2.6" fill="#333333"/>
<circle cx="486.4" cy="520.2" r="2.6" fill="#333333"/>
<circle cx="511.6" cy="519.3" r="2.6" fill="#333333"/>
<circle cx="513.4" cy="521.6" r="2.6" fill="#333333"/>
<circle cx="523.6" cy="519.5" r="2.6" fill="#333333"/>
<circle cx="519.2" cy="524.1" r="2.6" fill="#333333"/>
<circle cx="506.4" cy="523.7" r="2.6" fill="#333333"/>
<circle cx="502.9" cy="527.0" r="2.6" fill="#333333"/>
<circle cx="465.2" cy="526.6" r="2.6" fill="#333333"/>
<circle cx="541.1" cy="522.4" r="2.6" fill="#333333"/>
<circle cx="506.4" cy="536.8" r="2.6" fill="#333333"/>
<circle cx="490.5" cy="540.5" r="2.6" fill="#333333"/>
<circle cx="490.5" cy="544.9" r="2.6" fill="#333333"/>
<circle cx="521.4" cy="540.6" r="2.6" fill="#333333"/>
<circle cx="565.6" cy="495.7" r="2.6" fill="#333333"/>
<circle cx="568.5" cy="499.2" r="2.6" fill="#333333"/>
<circle cx="568.5" cy="509.0" r="2.6" fill="#333333"/>
<circle cx="557.1" cy="519.5" r="2.6" fill="#333333"/>
<circle cx="569.0" cy="532.8" r="2.6" fill="#333333"/>
<path d="M171.1 836.3L174.3 841.9L167.9 841.9Z" fill="#999999"/>
<path d="M176.9 819.9L180.1 825.5L173.7 825.5Z" fill="#999999"/>
<path d="M193.3 809.4L196.5 815.0L190.1 815.0Z" fill="#999999"/>
<path d="M191.8 812.0L195.0 817.6L188.6 817.6Z" fill="#999999"/>
<path d="M192.5 824.8L195.7 830.4L189.3 830.4Z" fill="#999999"/>
<path d="M196.2 825.7L199.4 831.3L193.0 831.3Z" fill="#999999"/>
<path d="M187.1 830.6L190.3 836.2L183.9 836.2Z" fill="#999999"/>
<path d="M184.8 831.0L188.0 836.6L181.6 836.6Z" fill="#999999"/>
<path d="M183.9 837.2L187.1 842.8L180.7 842.8Z" fill="#999999"/>
<path d="M207.6 830.4L210.8 836.0L204.4 836.0Z" fill="#999999"/>
<path d="M206.1 813.8L209.3 819.4L202.9 819.4Z" fill="#999999"/>
<path d="M207.9 815.2L211.1 820.8L204.7 820.8Z" fill="#999999"/>
<path d="M209.1 810.6L212.3 816.2L205.9 816.2Z" fill="#999999"/>
<path d="M211.4 806.5L214.6 812.1L208.2 812.1Z" fill="#999999"/>
<path d="M214.7 808.8L217.9 814.4L211.5 814.4Z" fill="#999999"/>
<path d="M217.0 805.3L220.2 810.9L213.8 810.9Z" fill="#999999"/>
<path d="M216.3 821.1L219.5 826.7L213.1 826.7Z" fill="#999999"/>
<path d="M210.2 817.0L213.4 822.6L207.0 822.6Z" fill="#999999"/>
<path d="M213.1 794.8L216.3 800.4L209.9 800.4Z" fill="#999999"/>
<path d="M217.8 789.0L221.0 794.6L214.6 794.6Z" fill="#999999"/>
<path d="M218.6 790.7L221.8 796.3L215.4 796.3Z" fill="#999999"/>
<path d="M221.3 796.3L224.5 801.9L218.1 801.9Z" fill="#999999"/>
<path d="M225.4 797.9L228.6 803.5L222.2 803.5Z" fill="#999999"/>
<path d="M236.8 805.3L240.0 810.9L233.6 810.9Z" fill="#999999"/>
<path d="M235.3 816.4L238.5 822.0L232.1 822.0Z" fill="#999999"/>
<path d="M238.5 818.7L241.7 824.3L235.3 824.3Z" fill="#999999"/>
<path d="M267.2 760.6L270.4 766.2L264.0 766.2Z" fill="#999999"/>
<path d="M281.0 761.5L284.2 767.1L277.8 767.1Z" fill="#999999"/>
<path d="M295.6 780.5L298.8 786.1L292.4 786.1Z" fill="#999999"/>
<path d="M253.3 780.5L256.5 786.1L250.1 786.1Z" fill="#999999"/>
<path d="M231.8 785.2L235.0 790.8L228.6 790.8Z" fill="#999999"/>
<path d="M217.2 786.3L220.4 791.9L214.0 791.9Z" fill="#999999"/>
<path d="M262.0 790.3L265.2 795.9L258.8 795.9Z" fill="#999999"/>
<path d="M247.4 795.4L250.6 801.0L244.2 801.0Z" fill="#999999"/>
<path d="M251.8 795.1L255.0 800.7L248.6 800.7Z" fill="#999999"/>
<path d="M250.4 803.8L253.6 809.4L247.2 809.4Z" fill="#999999"/>
<path d="M256.9 802.7L260.1 808.3L253.7 808.3Z" fill="#999999"/>
<path d="M242.6 808.2L245.8 813.8L239.4 813.8Z" fill="#999999"/>
<path d="M208.0 812.2L211.2 817.8L204.8 817.8Z" fill="#999999"/>
<circle cx="99.5" cy="894.3" r="2.6" fill="#333333"/>
<circle cx="107.5" cy="890.1" r="2.6" fill="#333333"/>
<circle cx="111.5" cy="887.9" r="2.6" fill="#333333"/>
<circle cx="117.0" cy="890.4" r="2.6" fill="#333333"/>
<circle cx="118.5" cy="871.8" r="2.6" fill="#333333"/>
<circle cx="123.9" cy="899.9" r="2.6" fill="#333333"/>
<circle cx="126.2" cy="906.4" r="2.6" fill="#333333"/>
<circle cx="130.1" cy="875.3" r="2.6" fill="#333333"/>
<circle cx="133.1" cy="875.0" r="2.6" fill="#333333"/>
<circle cx="136.0" cy="875.8" r="2.6" fill="#333333"/>
<circle cx="132.0" cy="865.1" r="2.6" fill="#333333"/>
<circle cx="137.4" cy="866.7" r="2.6" fill="#333333"/>
<circle cx="132.3" cy="893.3" r="2.6" fill="#333333"/>
<circle cx="135.0" cy="893.3" r="2.6" fill="#333333"/>
<circle cx="135.5" cy="883.8" r="2.6" fill="#333333"/>
<circle cx="140.4" cy="880.1" r="2.6" fill="#333333"/>
<circle cx="142.3" cy="891.1" r="2.6" fill="#333333"/>
<circle cx="145.5" cy="883.1" r="2.6" fill="#333333"/>
<circle cx="148.4" cy="885.0" r="2.6" fill="#333333"/>
<circle cx="150.1" cy="886.4" r="2.6" fill="#333333"/>
<circle cx="144.7" cy="875.8" r="2.6" fill="#333333"/>
<circle cx="148.7" cy="864.5" r="2.6" fill="#333333"/>
<circle cx="149.6" cy="869.2" r="2.6" fill="#333333"/>
<circle cx="152.0" cy="871.1" r="2.6" fill="#333333"/>
<circle cx="152.8" cy="857.8" r="2.6" fill="#333333"/>
<circle cx="153.5" cy="878.4" r="2.6" fill="#333333"/>
<circle cx="157.4" cy="869.9" r="2.6" fill="#333333"/>
<circle cx="160.8" cy="868.0" r="2.6" fill="#333333"/>
<circle cx="158.9" cy="881.6" r="2.6" fill="#333333"/>
<circle cx="164.0" cy="881.2" r="2.6" fill="#333333"/>
<circle cx="168.4" cy="866.6" r="2.6" fill="#333333"/>
<circle cx="172.0" cy="869.5" r="2.6" fill="#333333"/>
<circle cx="175.7" cy="863.4" r="2.6" fill="#333333"/>
<circle cx="173.5" cy="855.3" r="2.6" fill="#333333"/>
<circle cx="173.2" cy="849.1" r="2.6" fill="#333333"/>
<circle cx="189.6" cy="862.6" r="2.6" fill="#333333"/>
<circle cx="141.8" cy="875.0" r="2.6" fill="#333333"/>
<circle cx="173.8" cy="837.6" r="2.6" fill="#333333"/>
<path d="M550.1 826.2L553.3 831.8L546.9 831.8Z" fill="#999999"/>
<path d="M532.6 833.5L535.8 839.1L529.4 839.1Z" fill="#999999"/>
<path d="M557.7 832.0L560.9 837.6L554.5 837.6Z" fill="#999999"/>
<path d="M560.5 816.7L563.7 822.3L557.3 822.3Z" fill="#999999"/>
<path d="M571.3 820.3L574.5 825.9L568.1 825.9Z" fill="#999999"/>
<path d="M573.2 819.9L576.4 825.5L570.0 825.5Z" fill="#999999"/>
<path d="M587.7 819.9L590.9 825.5L584.5 825.5Z" fill="#999999"/>
<path d="M593.6 815.6L596.8 821.2L590.4 821.2Z" fill="#999999"/>
<path d="M592.3 819.9L595.5 825.5L589.1 825.5Z" fill="#999999"/>
<path d="M600.2 824.5L603.4 830.1L597.0 830.1Z" fill="#999999"/>
<path d="M626.5 827.2L629.7 832.8L623.3 832.8Z" fill="#999999"/>
<path d="M590.3 826.5L593.5 832.1L587.1 832.1Z" fill="#999999"/>
<path d="M591.0 830.1L594.2 835.7L587.8 835.7Z" fill="#999999"/>
<path d="M564.7 830.1L567.9 835.7L561.5 835.7Z" fill="#999999"/>
<path d="M564.7 833.1L567.9 838.7L561.5 838.7Z" fill="#999999"/>
<path d="M555.5 833.7L558.7 839.3L552.3 839.3Z" fill="#999999"/>
<path d="M575.9 829.8L579.1 835.4L572.7 835.4Z" fill="#999999"/>
<path d="M578.5 829.1L581.7 834.7L575.3 834.7Z" fill="#999999"/>
<path d="M581.8 829.1L585.0 834.7L578.6 834.7Z" fill="#999999"/>
<path d="M584.4 830.4L587.6 836.0L581.2 836.0Z" fill="#999999"/>
<path d="M574.6 831.8L577.8 837.4L571.4 837.4Z" fill="#999999"/>
<path d="M580.5 832.4L583.7 838.0L577.3 838.0Z" fill="#999999"/>
<path d="M611.4 833.5L614.6 839.1L608.2 839.1Z" fill="#999999"/>
<path d="M631.7 837.4L634.9 843.0L628.5 843.0Z" fill="#999999"/>
<path d="M576.5 839.6L579.7 845.2L573.3 845.2Z" fill="#999999"/>
<path d="M575.9 842.3L579.1 847.9L572.7 847.9Z" fill="#999999"/>
<path d="M567.6 844.0L570.8 849.6L564.4 849.6Z" fill="#999999"/>
<path d="M592.6 841.6L595.8 847.2L589.4 847.2Z" fill="#999999"/>
<path d="M592.6 844.0L595.8 849.6L589.4 849.6Z" fill="#999999"/>
<path d="M600.8 841.0L604.0 846.6L597.6 846.6Z" fill="#999999"/>
<path d="M602.8 844.0L606.0 849.6L599.6 849.6Z" fill="#999999"/>
<path d="M609.4 846.6L612.6 852.2L606.2 852.2Z" fill="#999999"/>
<path d="M593.0 848.2L596.2 853.8L589.8 853.8Z" fill="#999999"/>
<path d="M597.6 849.8L600.8 855.4L594.4 855.4Z" fill="#999999"/>
<path d="M586.0 849.8L589.2 855.4L582.8 855.4Z" fill="#999999"/>
<path d="M586.0 854.1L589.2 859.7L582.8 859.7Z" fill="#999999"/>
<path d="M601.5 852.8L604.7 858.4L598.3 858.4Z" fill="#999999"/>
<path d="M627.8 859.4L631.0 865.0L624.6 865.0Z" fill="#999999"/>
<circle cx="493.8" cy="827.2" r="2.6" fill="#333333"/>
<circle cx="499.3" cy="828.9" r="2.6" fill="#333333"/>
<circle cx="502.0" cy="829.8" r="2.6" fill="#333333"/>
<circle cx="502.8" cy="835.1" r="2.6" fill="#333333"/>
<circle cx="512.7" cy="821.9" r="2.6" fill="#333333"/>
<circle cx="521.5" cy="824.9" r="2.6" fill="#333333"/>
<circle cx="523.0" cy="829.5" r="2.6" fill="#333333"/>
<circle cx="515.6" cy="830.9" r="2.6" fill="#333333"/>
<circle cx="517.1" cy="833.3" r="2.6" fill="#333333"/>
<circle cx="518.0" cy="836.0" r="2.6" fill="#333333"/>
<circle cx="514.8" cy="837.7" r="2.6" fill="#333333"/>
<circle cx="513.9" cy="841.2" r="2.6" fill="#333333"/>
<circle cx="519.1" cy="840.0" r="2.6" fill="#333333"/>
<circle cx="517.4" cy="842.1" r="2.6" fill="#333333"/>
<circle cx="528.1" cy="834.8" r="2.6" fill="#333333"/>
<circle cx="526.7" cy="837.7" r="2.6" fill="#333333"/>
<circle cx="524.4" cy="840.0" r="2.6" fill="#333333"/>
<circle cx="533.5" cy="832.2" r="2.6" fill="#333333"/>
<circle cx="551.8" cy="829.5" r="2.6" fill="#333333"/>
<circle cx="546.2" cy="837.7" r="2.6" fill="#333333"/>
<circle cx="543.1" cy="842.6" r="2.6" fill="#333333"/>
<circle cx="500.8" cy="846.1" r="2.6" fill="#333333"/>
<circle cx="507.8" cy="845.9" r="2.6" fill="#333333"/>
<circle cx="509.2" cy="848.4" r="2.6" fill="#333333"/>
<circle cx="512.7" cy="850.5" r="2.6" fill="#333333"/>
<circle cx="518.0" cy="847.0" r="2.6" fill="#333333"/>
<circle cx="518.3" cy="851.7" r="2.6" fill="#333333"/>
<circle cx="523.4" cy="847.6" r="2.6" fill="#333333"/>
<circle cx="529.1" cy="843.0" r="2.6" fill="#333333"/>
<circle cx="531.4" cy="844.7" r="2.6" fill="#333333"/>
<circle cx="535.8" cy="848.2" r="2.6" fill="#333333"/>
<circle cx="535.5" cy="852.3" r="2.6" fill="#333333"/>
<circle cx="540.1" cy="850.0" r="2.6" fill="#333333"/>
<circle cx="498.5" cy="852.6" r="2.6" fill="#333333"/>
<circle cx="524.4" cy="853.8" r="2.6" fill="#333333"/>
<circle cx="526.5" cy="856.4" r="2.6" fill="#333333"/>
<circle cx="546.2" cy="858.5" r="2.6" fill="#333333"/>
<line x1="35.65" y1="307.85" x2="347.00" y2="51.90" stroke="#000" stroke-width="1.5" stroke-linecap="butt"/>
<line x1="35.60" y1="638.10" x2="347.40" y2="381.70" stroke="#000" stroke-width="1.5" stroke-linecap="butt"/>
<line x1="29.40" y1="968.10" x2="347.90" y2="712.20" stroke="#000" stroke-width="1.5" stroke-linecap="butt"/>
<line x1="427.05" y1="180.15" x2="683.00" y2="180.15" stroke="#000" stroke-width="1.5" stroke-linecap="butt"/>
<line x1="427.45" y1="140.30" x2="683.00" y2="140.30" stroke="#000" stroke-width="1.4" stroke-linecap="butt" stroke-dasharray="5.3,5.45"/>
<line x1="427.45" y1="219.85" x2="683.00" y2="219.85" stroke="#000" stroke-width="1.4" stroke-linecap="butt" stroke-dasharray="5.3,5.45"/>
<line x1="423.90" y1="510.60" x2="679.80" y2="510.60" stroke="#000" stroke-width="1.5" stroke-linecap="butt"/>
<line x1="424.30" y1="481.50" x2="679.80" y2="481.50" stroke="#000" stroke-width="1.4" stroke-linecap="butt" stroke-dasharray="5.3,5.45"/>
<line x1="424.30" y1="539.70" x2="679.80" y2="539.70" stroke="#000" stroke-width="1.4" stroke-linecap="butt" stroke-dasharray="5.3,5.45"/>
<line x1="428.80" y1="839.60" x2="686.00" y2="839.60" stroke="#000" stroke-width="1.5" stroke-linecap="butt"/>
<line x1="429.20" y1="820.70" x2="686.00" y2="820.70" stroke="#000" stroke-width="1.4" stroke-linecap="butt" stroke-dasharray="5.3,5.45"/>
<line x1="429.20" y1="858.50" x2="686.00" y2="858.50" stroke="#000" stroke-width="1.4" stroke-linecap="butt" stroke-dasharray="5.3,5.45"/>
<line x1="80.90" y1="267.70" x2="308.00" y2="88.30" stroke="#000" stroke-width="2.9" stroke-linecap="butt"/>
<line x1="465.50" y1="180.25" x2="639.60" y2="179.95" stroke="#000" stroke-width="2.9" stroke-linecap="butt"/>
<line x1="92.50" y1="588.40" x2="319.90" y2="409.00" stroke="#000" stroke-width="2.9" stroke-linecap="butt"/>
<line x1="465.10" y1="511.30" x2="659.70" y2="509.40" stroke="#000" stroke-width="2.9" stroke-linecap="butt"/>
<line x1="99.80" y1="906.10" x2="295.20" y2="758.70" stroke="#000" stroke-width="2.9" stroke-linecap="butt"/>
<line x1="493.90" y1="839.65" x2="631.70" y2="839.50" stroke="#000" stroke-width="2.9" stroke-linecap="butt"/>
<path d="M35.65 52.3L35.65 307.85L347.0 307.85" fill="none" stroke="#1a1a1a" stroke-width="1.45" stroke-linejoin="round"/>
<path d="M427.05 52.3L427.05 307.85L683.0 307.85" fill="none" stroke="#1a1a1a" stroke-width="1.45" stroke-linejoin="round"/>
<path d="M35.6 382.6L35.6 638.1L346.8 638.1" fill="none" stroke="#1a1a1a" stroke-width="1.45" stroke-linejoin="round"/>
<path d="M423.9 382.6L423.9 638.1L679.9 638.1" fill="none" stroke="#1a1a1a" stroke-width="1.45" stroke-linejoin="round"/>
<path d="M29.4 712.8L29.4 968.1L347.2 968.1" fill="none" stroke="#1a1a1a" stroke-width="1.45" stroke-linejoin="round"/>
<path d="M428.8 712.8L428.8 968.1L686.0 968.1" fill="none" stroke="#1a1a1a" stroke-width="1.45" stroke-linejoin="round"/>
<text x="3.0" y="41.6" font-size="17.8" text-anchor="start" fill="#000" font-weight="bold">A</text>
<text x="363.6" y="41.6" font-size="17.8" text-anchor="start" fill="#000" font-weight="bold">B</text>
<text transform="translate(3.0,372.2) scale(1.27,1)" font-size="17.8" text-anchor="start" fill="#000" font-weight="bold">C</text>
<text transform="translate(363.7,372.0) scale(1.27,1)" font-size="17.8" text-anchor="start" fill="#000" font-weight="bold">D</text>
<text transform="translate(2.4,703.1) scale(1.29,1)" font-size="17.8" text-anchor="start" fill="#000" font-weight="bold">E</text>
<text transform="translate(362.8,703.1) scale(1.24,1)" font-size="17.8" text-anchor="start" fill="#000" font-weight="bold">F</text>
<text x="130.1" y="62.2" font-size="13.8" text-anchor="middle" fill="#000" font-weight="normal">y = 0.90 + 0.96*x</text>
<text x="130.25" y="81.7" font-size="13.8" text-anchor="middle" fill="#000" font-weight="normal">RMSE: 1.74 kg</text>
<text x="105.0" y="103.6" font-size="13.8" text-anchor="start" fill="#000" font-weight="normal">R</text>
<text x="115.9" y="96.2" font-size="9.6" text-anchor="start" fill="#000" font-weight="normal">2</text>
<text x="122.8" y="103.6" font-size="13.8" text-anchor="start" fill="#000" font-weight="normal">:</text>
<text x="129.2" y="103.6" font-size="13.8" text-anchor="start" fill="#000" font-weight="normal" textLength="27.4">0.93</text>
<text x="619.0" y="70.4" font-size="13.8" text-anchor="middle" fill="#000" font-weight="normal">y = −0.04 + 0.00*x</text>
<text x="623.1" y="90.2" font-size="13.8" text-anchor="middle" fill="#000" font-weight="normal">95% LOA: ±3.43kg</text>
<text x="191.3" y="337.8" font-size="13.7" text-anchor="middle" fill="#000" font-weight="normal">MRI SM (kg)</text>
<text x="554.75" y="338.0" font-size="13.7" text-anchor="middle" fill="#000" font-weight="normal">Average SM (kg)</text>
<text transform="translate(10.3,181.8) rotate(-90) scale(1.0,1)" font-size="13.7" text-anchor="middle" fill="#000" font-weight="normal">Predicted SM (kg)</text>
<text transform="translate(395.5,179.5) rotate(-90) scale(1.0,1)" font-size="13.7" text-anchor="middle" fill="#000" font-weight="normal">Difference in SM (kg)</text>
<text x="276.3" y="9.9" font-size="13.2" text-anchor="start" fill="#000" font-weight="normal">Sex</text>
<circle cx="317.9" cy="5.2" r="2.6" fill="#333333"/>
<text x="336.0" y="9.4" font-size="10.8" text-anchor="start" fill="#000" font-weight="normal">Female</text>
<path d="M390.1 1.5L393.3 7.0L386.9 7.0Z" fill="#999"/>
<text x="407.6" y="9.4" font-size="10.8" text-anchor="start" fill="#000" font-weight="normal">Male</text>
<rect x="262" y="317.7" width="176.2" height="27" fill="#fff"/>
<rect x="262" y="647.7" width="176.2" height="27" fill="#fff"/>
<text transform="translate(276.60,340.60) scale(0.67,1)" font-size="14.67" fill="#000" textLength="32.54" lengthAdjust="spacing" stroke="#000" stroke-width="0.3">Sex</text>
<text transform="translate(335.40,339.60) scale(0.67,1)" font-size="11.09" fill="#000" textLength="53.43" lengthAdjust="spacing" stroke="#000" stroke-width="0.3">Female</text>
<text transform="translate(407.40,339.60) scale(0.67,1)" font-size="11.09" fill="#000" textLength="34.78" lengthAdjust="spacing" stroke="#000" stroke-width="0.3">Male</text>
<text transform="translate(276.60,670.60) scale(0.67,1)" font-size="14.67" fill="#000" textLength="32.54" lengthAdjust="spacing" stroke="#000" stroke-width="0.3">Sex</text>
<text transform="translate(335.40,669.60) scale(0.67,1)" font-size="11.09" fill="#000" textLength="53.43" lengthAdjust="spacing" stroke="#000" stroke-width="0.3">Female</text>
<text transform="translate(407.40,669.60) scale(0.67,1)" font-size="11.09" fill="#000" textLength="34.78" lengthAdjust="spacing" stroke="#000" stroke-width="0.3">Male</text>
<text transform="translate(91.40,398.90) scale(0.67,1)" font-size="15.01" fill="#000" textLength="152.99" lengthAdjust="spacing" stroke="#000" stroke-width="0.3">y = 0.48 + 0.96*x</text>
<text transform="translate(97.50,421.80) scale(0.67,1)" font-size="15.01" fill="#000" textLength="135.22" lengthAdjust="spacing" stroke="#000" stroke-width="0.3">RMSE: 0.95 kg</text>
<text transform="translate(118.50,447.00) scale(0.67,1)" font-size="15.01" fill="#000" textLength="14.78" lengthAdjust="spacing" stroke="#000" stroke-width="0.3">R</text>
<text transform="translate(129.90,441.00) scale(0.67,1)" font-size="8.29" fill="#000" textLength="7.16" lengthAdjust="spacing" stroke="#000" stroke-width="0.3">2</text>
<text transform="translate(138.60,447.00) scale(0.67,1)" font-size="15.01" fill="#000" textLength="42.54" lengthAdjust="spacing" stroke="#000" stroke-width="0.3">:0.91</text>
<text transform="translate(138.90,667.60) scale(0.67,1)" font-size="15.01" fill="#000" textLength="154.78" lengthAdjust="spacing" stroke="#000" stroke-width="0.3">MRI Leg SM (kg)</text>
<text transform="translate(10.60,578.10) rotate(-90) scale(0.67,1)" font-size="15.01" fill="#000" textLength="202.24" lengthAdjust="spacing" stroke="#000" stroke-width="0.3">Predicted Leg SM (kg)</text>
<text transform="translate(555.50,396.90) scale(0.67,1)" font-size="15.01" fill="#000" textLength="165.52" lengthAdjust="spacing" stroke="#000" stroke-width="0.3">y = −0.14 + 0.01*x</text>
<text transform="translate(557.60,416.40) scale(0.67,1)" font-size="15.01" fill="#000" textLength="170.90" lengthAdjust="spacing" stroke="#000" stroke-width="0.3">95% LOA: ±1.87kg</text>
<text transform="translate(487.00,667.60) scale(0.67,1)" font-size="15.01" fill="#000" textLength="190.45" lengthAdjust="spacing" stroke="#000" stroke-width="0.3">Average Leg SM (kg)</text>
<text transform="translate(398.60,588.10) rotate(-90) scale(0.67,1)" font-size="15.01" fill="#000" textLength="232.09" lengthAdjust="spacing" stroke="#000" stroke-width="0.3">Difference in Leg SM (kg)</text>
<text transform="translate(87.50,744.60) scale(0.67,1)" font-size="15.01" fill="#000" textLength="152.84" lengthAdjust="spacing" stroke="#000" stroke-width="0.3">y = 0.26 + 0.94*x</text>
<text transform="translate(93.60,767.90) scale(0.67,1)" font-size="15.01" fill="#000" textLength="134.63" lengthAdjust="spacing" stroke="#000" stroke-width="0.3">RMSE: 0.41 kg</text>
<text transform="translate(114.30,792.80) scale(0.67,1)" font-size="15.01" fill="#000" textLength="14.33" lengthAdjust="spacing" stroke="#000" stroke-width="0.3">R</text>
<text transform="translate(125.50,786.40) scale(0.67,1)" font-size="8.29" fill="#000" textLength="7.16" lengthAdjust="spacing" stroke="#000" stroke-width="0.3">2</text>
<text transform="translate(132.90,792.80) scale(0.67,1)" font-size="15.01" fill="#000" textLength="45.82" lengthAdjust="spacing" stroke="#000" stroke-width="0.3">:0.88</text>
<text transform="translate(134.90,998.80) scale(0.67,1)" font-size="14.11" fill="#000" textLength="156.87" lengthAdjust="spacing" stroke="#000" stroke-width="0.3">MRI Arm SM (kg)</text>
<text transform="translate(10.60,910.10) rotate(-90) scale(0.67,1)" font-size="14.56" fill="#000" textLength="206.87" lengthAdjust="spacing" stroke="#000" stroke-width="0.3">Predicted Arm SM (kg)</text>
<text transform="translate(556.50,742.20) scale(0.67,1)" font-size="15.01" fill="#000" textLength="152.24" lengthAdjust="spacing" stroke="#000" stroke-width="0.3">y = 0.03 + 0.00*x</text>
<text transform="translate(554.40,762.30) scale(0.67,1)" font-size="15.01" fill="#000" textLength="170.90" lengthAdjust="spacing" stroke="#000" stroke-width="0.3">95% LOA: ±0.81kg</text>
<text transform="translate(490.30,998.80) scale(0.67,1)" font-size="14.11" fill="#000" textLength="194.93" lengthAdjust="spacing" stroke="#000" stroke-width="0.3">Average Arm SM (kg)</text>
<text transform="translate(394.00,919.00) rotate(-90) scale(0.67,1)" font-size="14.56" fill="#000" textLength="233.43" lengthAdjust="spacing" stroke="#000" stroke-width="0.3">Difference in Arm SM (kg)</text>
</g></svg>
</body></html>
